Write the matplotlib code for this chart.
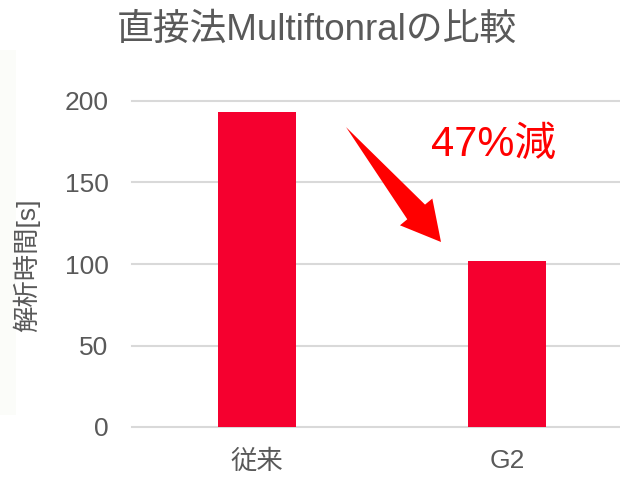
import numpy as np
import matplotlib
matplotlib.use('Agg')
import matplotlib.pyplot as plt
from matplotlib.patches import Polygon, Rectangle

plt.rcParams['font.family'] = ['Liberation Sans', 'Noto Sans CJK JP', 'DejaVu Sans']

# データ
categories = ['従来', 'G2']
times = [193, 102]
title = '直接法Multiftonralの比較'
ylabel = '解析時間[s]'
note = '47%減'
y_ticks = [0, 50, 100, 150, 200]
arrow_start = (0.356, 184)
arrow_end = (0.736, 113.5)

bar_color = '#F5002F'
text_gray = '#595959'
grid_gray = '#D9D9D9'

W, H = 620, 479
fig = plt.figure(figsize=(W / 100, H / 100), dpi=100)
fig.patch.set_facecolor('white')

# 左側の薄い背景
fig.patches.append(Rectangle((0, 1 - 415 / H), 16 / W, 365 / H, transform=fig.transFigure,
                             facecolor='#FBFCF9', edgecolor='none', zorder=0))

ax = fig.add_axes([132 / W, 1 - 427 / H, (W - 132) / W, 326 / H])
x = np.arange(len(categories))
ax.bar(x, times, width=0.31, color=bar_color, zorder=3)

ax.set_xlim(-0.5, 1.452)
ax.set_ylim(0, 200)
ax.set_yticks(y_ticks)
ax.yaxis.grid(True, color=grid_gray, linewidth=1.5, zorder=0)
ax.set_axisbelow(True)
for s in ax.spines.values():
    s.set_visible(False)
for gl in ax.get_ygridlines():
    gl.set_clip_on(False)

ax.set_xticks(x)
ax.set_xticklabels(categories)
ax.tick_params(axis='both', length=0, labelsize=19, labelcolor=text_gray)
ax.tick_params(axis='y', pad=17)
ax.tick_params(axis='x', pad=16)

fig.text(317 / W, 1 - 30 / H, title, ha='center', va='center', fontsize=26.5, color=text_gray)
fig.text(26 / W, 1 - 265 / H, ylabel, ha='center', va='center', rotation=90,
         fontsize=19, color=text_gray)

ax.text(0.945, 173, note, ha='center', va='center', fontsize=30, color='#FF0000', zorder=5)

# 矢印 (先細りの軸 + 三角形の頭)
fig.canvas.draw()
p0 = ax.transData.transform(arrow_start)
p1 = ax.transData.transform(arrow_end)
d = p1 - p0
L = np.hypot(*d)
u = d / L
n = np.array([-u[1], u[0]])
head_len = 39
head_hw = 21
shaft_hw = 11.5
base = p1 - u * head_len
pts = [p0,
       base + n * shaft_hw,
       base + n * head_hw,
       p1,
       base - n * head_hw,
       base - n * shaft_hw]
arrow = Polygon(pts, closed=True, transform=None, facecolor='#FF0000', edgecolor='none', zorder=6)
fig.patches.append(arrow)

fig.savefig('out.png', dpi=100)
